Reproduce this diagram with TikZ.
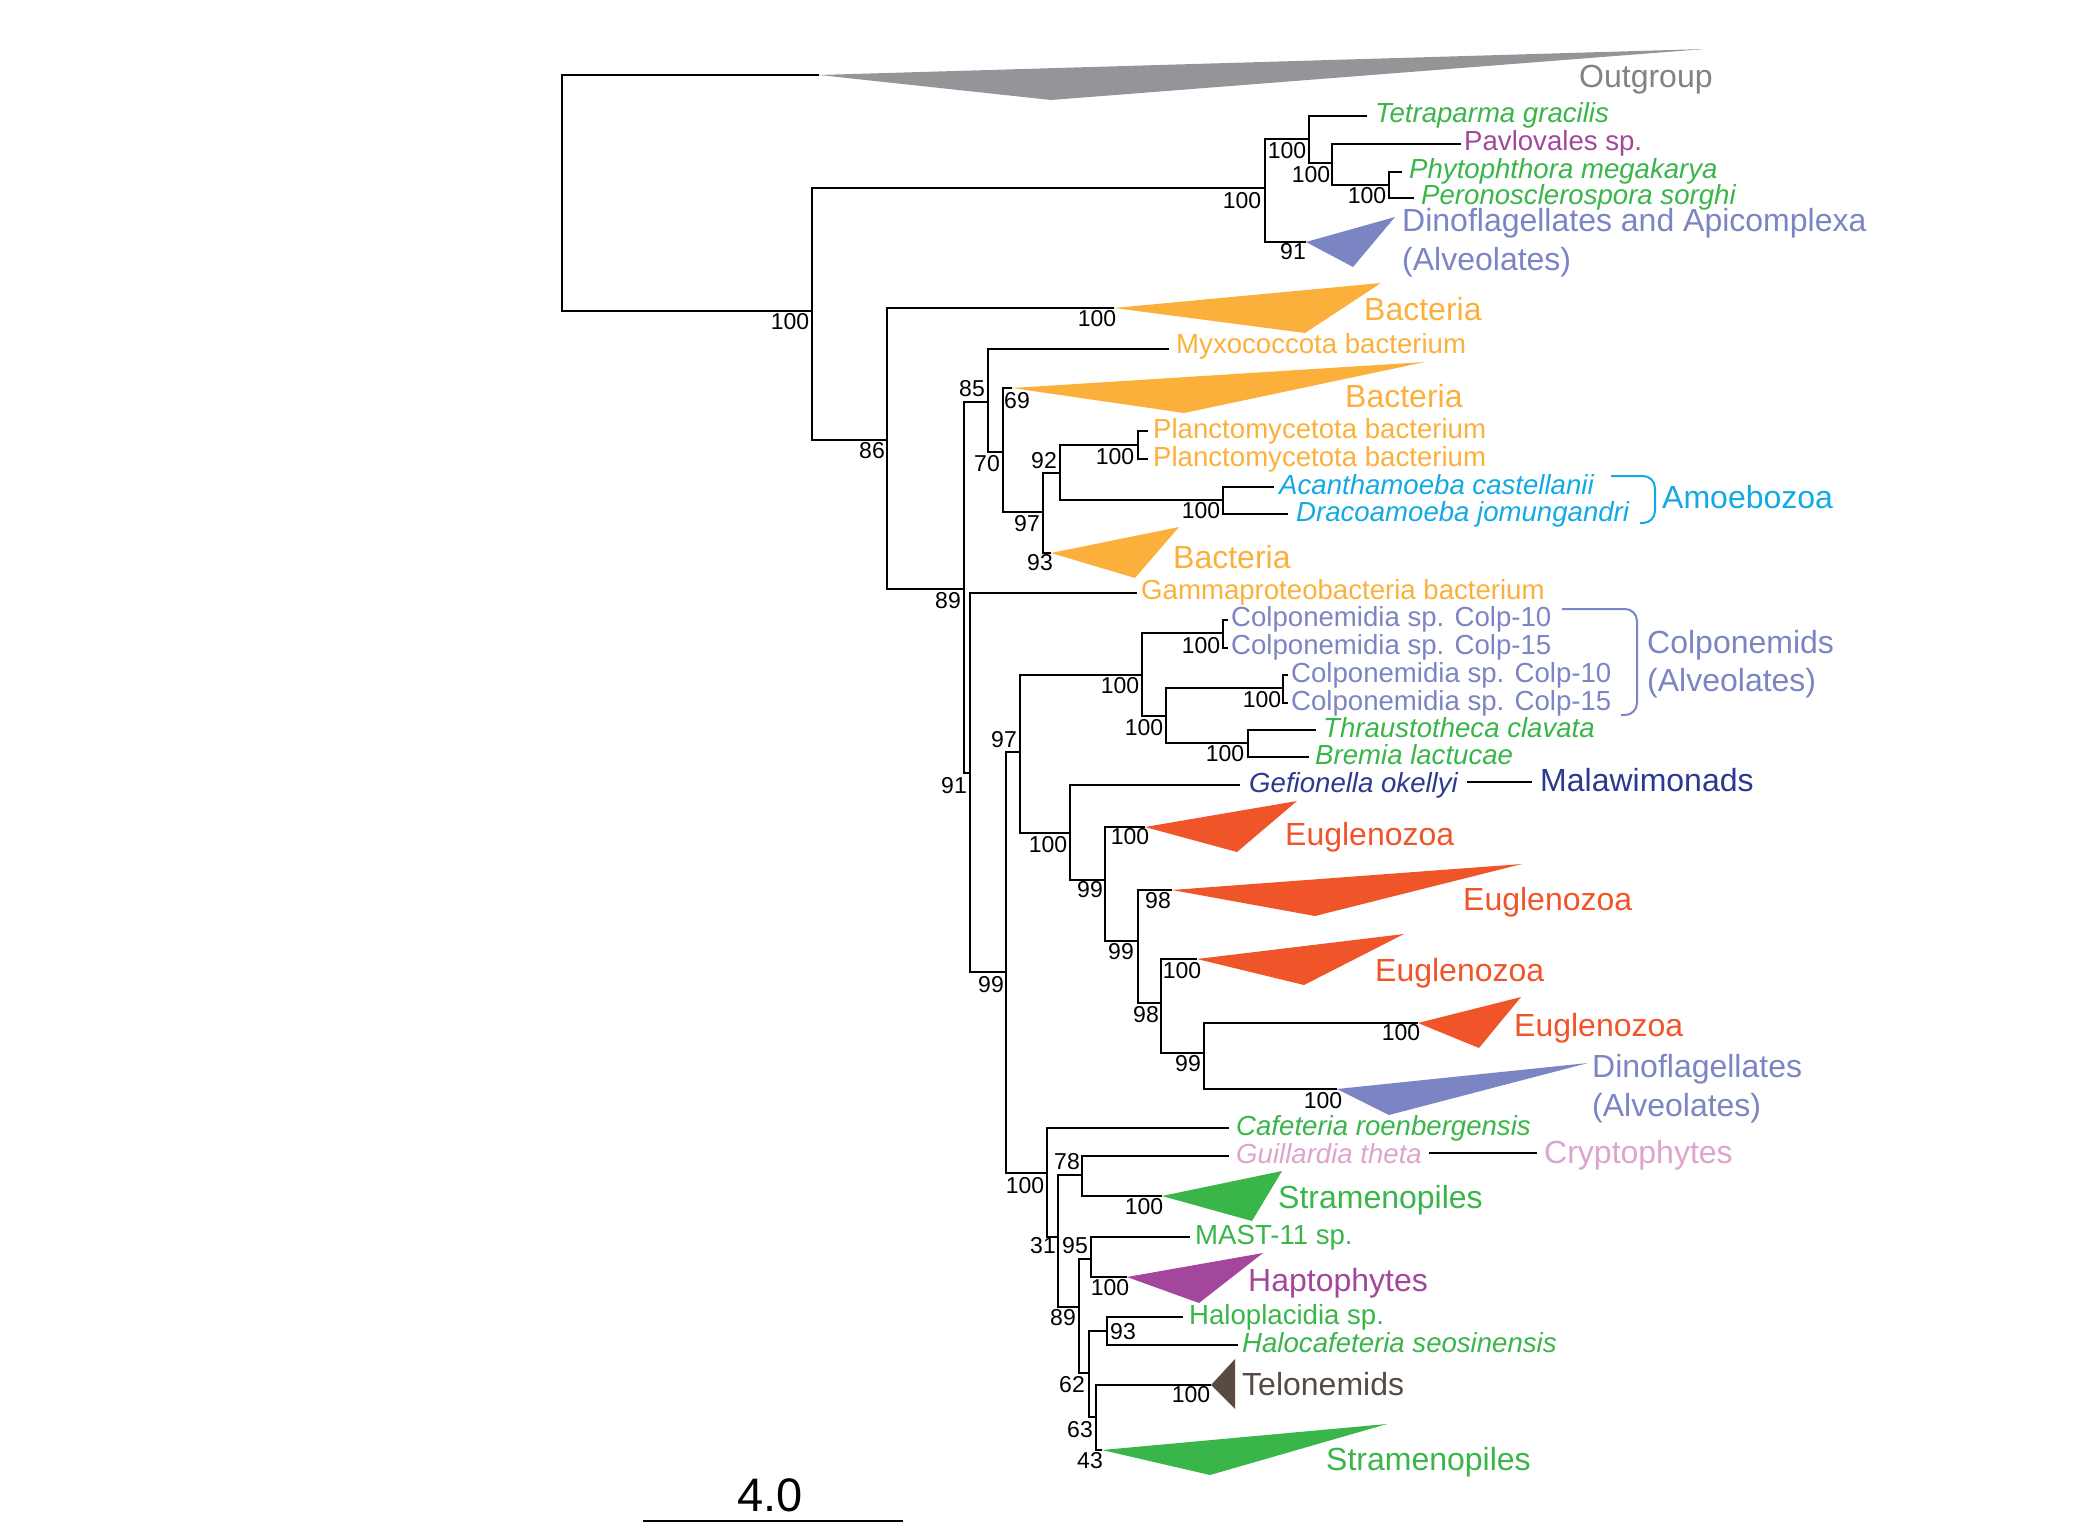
\documentclass[tikz,border=0pt]{standalone}
\usepackage{fontspec}
\setmainfont{Liberation Sans}
\definecolor{ogc}{HTML}{939598}
\definecolor{ogt}{HTML}{808285}
\definecolor{grn}{HTML}{39B54A}
\definecolor{pur}{HTML}{A3479C}
\definecolor{alv}{HTML}{7B85C3}
\definecolor{org}{HTML}{FBB03B}
\definecolor{cya}{HTML}{12A9E4}
\definecolor{nav}{HTML}{2B3990}
\definecolor{eug}{HTML}{F05429}
\definecolor{pnk}{HTML}{DDA4CC}
\definecolor{tel}{HTML}{594A42}
\begin{document}
\begin{tikzpicture}[x=1pt,y=-1pt,
  br/.style={line width=2.3pt, line join=miter, black},
  bs/.style={font=\fontsize{23}{25}\selectfont, inner sep=0pt, text height=16.5pt, text depth=0pt, anchor=center, yshift=1.5pt},
  lab/.style={font=\fontsize{27.6}{30}\selectfont, inner sep=0pt, text height=20pt, text depth=0pt, anchor=west, yshift=3pt},
  big/.style={font=\fontsize{32}{34}\selectfont, inner sep=0pt, text height=23pt, text depth=0pt, anchor=west, yshift=3pt},
  brk/.style={line width=2pt, rounded corners=12pt}]
\useasboundingbox (0,0) rectangle (2078,1522);

% ---------- tree coordinates ----------
\coordinate (nRoot) at (562,190);
\coordinate (ogA) at (819,75);
\coordinate (nA) at (812,311);
\coordinate (nB) at (1265,188);
\coordinate (nC) at (887,440);
\coordinate (nD) at (1309,139);
\coordinate (nE) at (1332,163);
\coordinate (nF) at (1389,185);
\coordinate (lTet) at (1367,116);
\coordinate (lPav) at (1461,144);
\coordinate (lPhy) at (1402,172);
\coordinate (lPer) at (1414,198);
\coordinate (tDA) at (1306,242);
\coordinate (tB1) at (1114,308);
\coordinate (nG) at (964,589);
\coordinate (nH) at (988,402);
\coordinate (nI) at (970,773);
\coordinate (lMyx) at (1169,349);
\coordinate (nJ) at (1003,452);
\coordinate (tB2) at (1012,388);
\coordinate (nK) at (1043,512);
\coordinate (nL) at (1060,473);
\coordinate (tB3) at (1051,553);
\coordinate (nM) at (1138,445);
\coordinate (nN) at (1223,500);
\coordinate (lPl1) at (1148,431);
\coordinate (lPl2) at (1148,459);
\coordinate (lAca) at (1274,487);
\coordinate (lDra) at (1288,514);
\coordinate (lGam) at (1137,593);
\coordinate (nO) at (1006,972);
\coordinate (nP) at (1020,752);
\coordinate (nQ) at (1047,1173);
\coordinate (nR) at (1142,675);
\coordinate (nS) at (1070,833);
\coordinate (nT) at (1223,633);
\coordinate (nU) at (1166,716);
\coordinate (lC1) at (1228,620);
\coordinate (lC2) at (1228,648);
\coordinate (nV) at (1283,688);
\coordinate (nW) at (1248,743);
\coordinate (lC3) at (1288,675);
\coordinate (lC4) at (1288,703);
\coordinate (lThr) at (1316,730);
\coordinate (lBre) at (1309,757);
\coordinate (lGef) at (1240,785);
\coordinate (nX) at (1105,880);
\coordinate (tE1) at (1145,827);
\coordinate (nY) at (1138,941);
\coordinate (tE2) at (1172,890);
\coordinate (nZ) at (1161,1003);
\coordinate (tE3) at (1197,959);
\coordinate (nAA) at (1204,1053);
\coordinate (tE4) at (1418,1023);
\coordinate (tD2) at (1337,1089);
\coordinate (lCaf) at (1229,1128);
\coordinate (nAB) at (1058,1237);
\coordinate (nAC) at (1082,1175);
\coordinate (nAD) at (1079,1307);
\coordinate (lGui) at (1229,1156);
\coordinate (tS1) at (1162,1196);
\coordinate (nAE) at (1091,1259);
\coordinate (nAF) at (1089,1373);
\coordinate (lMAST) at (1190,1237);
\coordinate (tHap) at (1127,1277);
\coordinate (nAG) at (1107,1331);
\coordinate (nAH) at (1096,1417);
\coordinate (lHp) at (1183,1317);
\coordinate (lHc) at (1238,1345);
\coordinate (tTel) at (1211,1385);
\coordinate (tS2) at (1102,1450);

% ---------- collapsed clades (triangles) ----------
\fill[ogc] (ogA) -- (1705,49) -- (1051,100) -- cycle;
\fill[alv] (tDA) -- (1395,217) -- (1353,267) -- cycle;
\fill[org] (tB1) -- (1381,283) -- (1305,333) -- cycle;
\fill[org] (tB2) -- (1425,362) -- (1184,413) -- cycle;
\fill[org] (tB3) -- (1179,527) -- (1135,578) -- cycle;
\fill[eug] (tE1) -- (1297,801) -- (1237,852) -- cycle;
\fill[eug] (tE2) -- (1522,864) -- (1315,916) -- cycle;
\fill[eug] (tE3) -- (1404,934) -- (1304,985) -- cycle;
\fill[eug] (tE4) -- (1521,997) -- (1479,1048) -- cycle;
\fill[alv] (tD2) -- (1588,1063) -- (1389,1115) -- cycle;
\fill[grn] (tS1) -- (1282,1171) -- (1252,1221) -- cycle;
\fill[pur] (tHap) -- (1263,1253) -- (1199,1303) -- cycle;
\fill[tel] (tTel) -- (1235,1359) -- (1235,1409) -- cycle;
\fill[grn] (tS2) -- (1387,1424) -- (1210,1475) -- cycle;

% ---------- branches ----------
\foreach \p/\a/\b in {nRoot/ogA/nA, nA/nB/nC, nB/nD/tDA, nD/lTet/nE, nE/lPav/nF,
  nF/lPhy/lPer, nC/tB1/nG, nG/nH/nI, nH/lMyx/nJ, nJ/tB2/nK, nK/nL/tB3,
  nL/nM/nN, nM/lPl1/lPl2, nN/lAca/lDra, nI/lGam/nO, nO/nP/nQ, nP/nR/nS,
  nR/nT/nU, nT/lC1/lC2, nU/nV/nW, nV/lC3/lC4, nW/lThr/lBre, nS/lGef/nX,
  nX/tE1/nY, nY/tE2/nZ, nZ/tE3/nAA, nAA/tE4/tD2, nQ/lCaf/nAB, nAB/nAC/nAD,
  nAC/lGui/tS1, nAD/nAE/nAF, nAE/lMAST/tHap, nAF/nAG/nAH, nAG/lHp/lHc,
  nAH/tTel/tS2}
  \draw[br] (\a) -- (\a -| \p) -- (\b -| \p) -- (\b);

% ---------- support values ----------
\node[bs] (b1) at (790,323) {100};
\node[bs] (b2) at (1242,202) {100};
\node[bs] (b3) at (1287,152) {100};
\node[bs] (b4) at (1311,176) {100};
\node[bs] (b5) at (1367,197) {100};
\node[bs] (b6) at (1293,253) {91};
\node[bs] (b7) at (872,452) {86};
\node[bs] (b8) at (1097,320) {100};
\node[bs] (b9) at (948,602) {89};
\node[bs] (b10) at (972,390) {85};
\node[bs] (b11) at (987,465) {70};
\node[bs] (b12) at (1017,402) {69};
\node[bs] (b13) at (1027,525) {97};
\node[bs] (b14) at (1044,462) {92};
\node[bs] (b15) at (1115,458) {100};
\node[bs] (b16) at (1201,512) {100};
\node[bs] (b17) at (1040,564) {93};
\node[bs] (b18) at (954,787) {91};
\node[bs] (b19) at (991,986) {99};
\node[bs] (b20) at (1004,741) {97};
\node[bs] (b21) at (1120,687) {100};
\node[bs] (b22) at (1201,647) {100};
\node[bs] (b23) at (1144,729) {100};
\node[bs] (b24) at (1262,701) {100};
\node[bs] (b25) at (1225,755) {100};
\node[bs] (b26) at (1048,846) {100};
\node[bs] (b27) at (1090,891) {99};
\node[bs] (b28) at (1130,838) {100};
\node[bs] (b29) at (1121,953) {99};
\node[bs] (b30) at (1158,902) {98};
\node[bs] (b31) at (1146,1016) {98};
\node[bs] (b32) at (1182,972) {100};
\node[bs] (b33) at (1188,1065) {99};
\node[bs] (b34) at (1401,1034) {100};
\node[bs] (b35) at (1323,1102) {100};
\node[bs] (b36) at (1025,1187) {100};
\node[bs] (b37) at (1067,1163) {78};
\node[bs] (b38) at (1144,1208) {100};
\node[bs] (b39) at (1043,1247) {31};
\node[bs] (b40) at (1075,1247) {95};
\node[bs] (b41) at (1110,1289) {100};
\node[bs] (b42) at (1063,1319) {89};
\node[bs] (b43) at (1123,1333) {93};
\node[bs] (b44) at (1072,1386) {62};
\node[bs] (b45) at (1191,1396) {100};
\node[bs] (b46) at (1080,1431) {63};
\node[bs] (b47) at (1090,1462) {43};

% ---------- taxon labels ----------
\node[big, ogt] (og) at (1579,79) {Outgroup};
\node[lab, grn] (tet) at (1375,116) {\itshape Tetraparma gracilis};
\node[lab, pur] (pav) at (1464,144) {Pavlovales sp.};
\node[lab, grn] (phy) at (1409,172) {\itshape Phytophthora megakarya};
\node[lab, grn] (per) at (1421,198) {\itshape Peronosclerospora sorghi};
\node[big, alv] (da1) at (1402,223) {Dinoflagellates and Apicomplexa};
\node[big, alv] (da2) at (1402,262) {(Alveolates)};
\node[big, org] (bac1) at (1364,312) {Bacteria};
\node[lab, org] (myx) at (1176,347) {Myxococcota bacterium};
\node[big, org] (bac2) at (1345,399) {Bacteria};
\node[lab, org] (pl1) at (1153,431) {Planctomycetota bacterium};
\node[lab, org] (pl2) at (1153,459) {Planctomycetota bacterium};
\node[lab, cya] (aca) at (1279,487) {\itshape Acanthamoeba castellanii};
\node[lab, cya] (dra) at (1296,514) {\itshape Dracoamoeba jomungandri};
\node[big, cya] (amo) at (1662,500) {Amoebozoa};
\node[big, org] (bac3) at (1173,560) {Bacteria};
\node[lab, org] (gam) at (1141,592) {Gammaproteobacteria bacterium};
\node[lab, alv] (c1) at (1231,619) {Colponemidia sp. Colp-10};
\node[lab, alv] (c2) at (1231,647) {Colponemidia sp. Colp-15};
\node[lab, alv] (c3) at (1291,675) {Colponemidia sp. Colp-10};
\node[lab, alv] (c4) at (1291,703) {Colponemidia sp. Colp-15};
\node[big, alv] (col1) at (1647,645) {Colponemids};
\node[big, alv] (col2) at (1647,683) {(Alveolates)};
\node[lab, grn] (thr) at (1323,730) {\itshape Thraustotheca clavata};
\node[lab, grn] (bre) at (1315,757) {\itshape Bremia lactucae};
\node[lab, nav] (gef) at (1249,785) {\itshape Gefionella okellyi};
\node[big, nav] (mal) at (1540,783) {Malawimonads};
\node[big, eug] (eu1) at (1285,837) {Euglenozoa};
\node[big, eug] (eu2) at (1463,902) {Euglenozoa};
\node[big, eug] (eu3) at (1375,973) {Euglenozoa};
\node[big, eug] (eu4) at (1514,1028) {Euglenozoa};
\node[big, alv] (dn1) at (1592,1069) {Dinoflagellates};
\node[big, alv] (dn2) at (1592,1108) {(Alveolates)};
\node[lab, grn] (caf) at (1236,1128) {\itshape Cafeteria roenbergensis};
\node[lab, pnk] (gui) at (1236,1156) {\itshape Guillardia theta};
\node[big, pnk] (cry) at (1544,1155) {Cryptophytes};
\node[big, grn] (st1) at (1278,1200) {Stramenopiles};
\node[lab, grn] (mast) at (1195,1237) {MAST-11 sp.};
\node[big, pur] (hap) at (1248,1283) {Haptophytes};
\node[lab, grn] (hp) at (1189,1317) {Haloplacidia sp.};
\node[lab, grn] (hc) at (1242,1345) {\itshape Halocafeteria seosinensis};
\node[big, tel] (telo) at (1242,1387) {Telonemids};
\node[big, grn] (st2) at (1326,1462) {Stramenopiles};

% ---------- label connectors and brackets ----------
\draw[line width=2pt] ([xshift=9pt]gef.east) -- ([xshift=-8pt]gef.east -| mal.west);
\draw[line width=2pt] ([xshift=7pt]gui.east) -- ([xshift=-7pt]gui.east -| cry.west);
\coordinate (am1) at (1611,476);
\coordinate (am2) at (1640,523);
\draw[brk, cya] (am1) -- (1655,476) -- (1655,523) -- (am2);
\coordinate (cb1) at (1562,609);
\coordinate (cb2) at (1621,715);
\draw[brk, alv] (cb1) -- (1637,609) -- (1637,715) -- (cb2);

% ---------- scale bar ----------
\coordinate (sb1) at (643,1521);
\coordinate (sb2) at (903,1521);
\draw[line width=2pt] (sb1) -- (sb2);
\node[inner sep=0pt, text height=34pt, text depth=0pt, font=\fontsize{47}{50}\selectfont, yshift=4pt] (sc) at (770,1498) {4.0};
\end{tikzpicture}
\end{document}
